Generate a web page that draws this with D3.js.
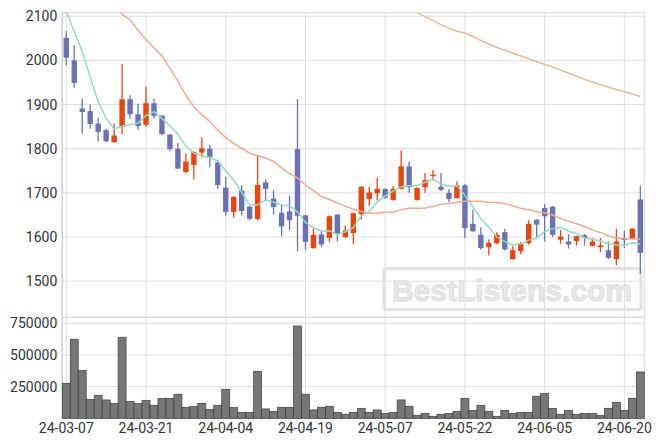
<!DOCTYPE html>
<html>
<head>
<meta charset="utf-8">
<script src="https://cdn.jsdelivr.net/npm/d3@7"></script>
<style>
  html, body { margin: 0; padding: 0; background: #ffffff; }
  svg { display: block; }
</style>
</head>
<body>
<div id="chart"></div>
<script>
const dates = ["24-03-07","24-03-08","24-03-11","24-03-12","24-03-13","24-03-14","24-03-15","24-03-18","24-03-19","24-03-20","24-03-21","24-03-22","24-03-25","24-03-26","24-03-27","24-03-28","24-03-29","24-04-01","24-04-02","24-04-03","24-04-04","24-04-05","24-04-08","24-04-09","24-04-11","24-04-12","24-04-15","24-04-16","24-04-17","24-04-18","24-04-19","24-04-22","24-04-23","24-04-24","24-04-25","24-04-26","24-04-29","24-04-30","24-05-02","24-05-03","24-05-07","24-05-08","24-05-09","24-05-10","24-05-13","24-05-14","24-05-16","24-05-17","24-05-20","24-05-21","24-05-22","24-05-23","24-05-24","24-05-27","24-05-28","24-05-29","24-05-30","24-05-31","24-06-03","24-06-04","24-06-05","24-06-07","24-06-10","24-06-11","24-06-12","24-06-13","24-06-14","24-06-17","24-06-18","24-06-19","24-06-20","24-06-21","24-06-24"];

const open  = [2051,2000,1891,1885,1857,1842,1815,1849,1912,1878,1854,1903,1875,1832,1800,1747,1763,1791,1800,1769,1712,1657,1705,1669,1641,1724,1687,1655,1658,1799,1649,1575,1606,1598,1651,1600,1609,1652,1686,1699,1709,1684,1709,1760,1684,1713,1738,1714,1700,1688,1717,1630,1605,1577,1586,1611,1550,1568,1586,1639,1666,1669,1594,1590,1591,1604,1580,1577,1570,1550,1596,1596,1685];
const high  = [2066,2034,1913,1900,1870,1845,1857,1992,1921,1902,1940,1913,1876,1833,1813,1789,1794,1826,1809,1775,1736,1692,1717,1670,1785,1730,1706,1675,1693,1912,1650,1620,1614,1649,1652,1626,1655,1715,1714,1734,1710,1715,1796,1771,1713,1745,1752,1745,1709,1726,1720,1662,1622,1595,1611,1619,1579,1589,1638,1640,1675,1670,1616,1607,1603,1607,1598,1598,1590,1619,1614,1620,1716];
const low   = [1989,1938,1834,1845,1817,1815,1814,1832,1868,1842,1849,1868,1830,1794,1754,1745,1730,1780,1758,1709,1649,1644,1649,1638,1638,1683,1651,1602,1615,1568,1572,1574,1577,1589,1590,1598,1585,1639,1671,1683,1686,1683,1708,1700,1683,1700,1728,1704,1679,1687,1598,1612,1571,1558,1583,1570,1549,1561,1583,1600,1590,1600,1585,1574,1581,1581,1579,1566,1550,1536,1575,1595,1517];
const close = [2006,1949,1883,1856,1838,1817,1830,1912,1878,1851,1903,1874,1833,1799,1755,1771,1792,1801,1780,1718,1657,1691,1659,1641,1718,1709,1668,1624,1638,1648,1589,1605,1583,1647,1608,1615,1654,1714,1701,1709,1689,1709,1760,1713,1711,1729,1741,1707,1686,1717,1620,1613,1575,1587,1605,1572,1570,1586,1630,1628,1647,1605,1601,1583,1602,1598,1590,1581,1553,1590,1593,1619,1564];

const ma5 = [2112,2065,2020,1962,1906,1869,1845,1851,1855,1858,1875,1884,1868,1852,1833,1806,1790,1784,1780,1772,1750,1729,1701,1673,1673,1684,1679,1672,1671,1657,1633,1621,1613,1614,1606,1612,1621,1648,1658,1679,1693,1704,1714,1716,1716,1724,1731,1720,1715,1716,1694,1669,1642,1622,1600,1590,1582,1584,1593,1597,1612,1619,1622,1613,1608,1598,1595,1591,1585,1582,1581,1587,1584];
const ma20 = [null,null,null,null,null,null,2130,2104,2092,2068,2047,2028,2010,1982,1953,1921,1895,1877,1862,1842,1825,1812,1801,1790,1784,1779,1771,1756,1744,1734,1718,1705,1692,1685,1677,1670,1663,1658,1654,1654,1656,1656,1662,1665,1665,1666,1669,1674,1676,1679,1681,1681,1681,1678,1678,1676,1671,1665,1662,1657,1655,1650,1642,1636,1630,1624,1616,1610,1603,1597,1596,1596,1595];
const ma120 = [null,null,null,null,null,null,null,null,null,null,null,null,null,null,null,null,null,null,null,null,null,null,null,null,null,null,null,null,null,null,null,null,null,null,null,null,null,null,null,null,null,null,null,2118,2108,2099,2090,2081,2073,2066,2062,2054,2045,2037,2029,2023,2016,2010,2004,1997,1991,1985,1978,1971,1964,1957,1951,1945,1939,1934,1929,1924,1918];

const volume = [276000,624000,379000,150000,182000,145000,118000,640000,134000,118000,142000,103000,158000,158000,190000,87000,92000,118000,71000,103000,229000,84000,47000,47000,371000,74000,55000,87000,87000,729000,190000,66000,87000,95000,47000,32000,47000,79000,47000,66000,39000,47000,145000,95000,24000,39000,16000,32000,39000,55000,158000,63000,103000,55000,16000,63000,39000,47000,47000,174000,197000,79000,32000,63000,32000,39000,39000,24000,79000,126000,63000,158000,366000];

const priceTicks = [1500,1600,1700,1800,1900,2000,2100];
const volumeTicks = [250000,500000,750000];
const dateTickLabels = ["24-03-07","24-03-21","24-04-04","24-04-19","24-05-07","24-05-22","24-06-05","24-06-20"];

const W = 663, H = 447;
const left = 62.3, right = 644.3;
const pTop = 12.7, pBottom = 317.3;
const vTop = 317.3, vBottom = 418.3;

const upColor = "#e8450f", downColor = "#6b72b4";
const gridColor = "#dedede";
const textColor = "#333333";
const font = "Roboto, 'Noto Sans', sans-serif";

const svg = d3.select("#chart").append("svg").attr("width", W).attr("height", H);

const x = d3.scaleBand().domain(d3.range(dates.length)).range([left, right]).padding(0);
const cx = i => x(i) + x.bandwidth() / 2;
const yP = d3.scaleLinear().domain([1500, 2100]).range([281.2, 16.2]);
const yV = d3.scaleLinear().domain([0, 750000]).range([vBottom, 323.3]);

// clip paths
const defs = svg.append("defs");
defs.append("clipPath").attr("id", "clipP").append("rect")
  .attr("x", left).attr("y", pTop).attr("width", right - left).attr("height", pBottom - pTop);

// gridlines
const grid = svg.append("g").attr("stroke", gridColor).attr("stroke-width", 1);
grid.selectAll(".hp").data(priceTicks).join("line")
  .attr("x1", left).attr("x2", right)
  .attr("y1", d => yP(d)).attr("y2", d => yP(d));
grid.selectAll(".hv").data(volumeTicks).join("line")
  .attr("x1", left).attr("x2", right)
  .attr("y1", d => yV(d)).attr("y2", d => yV(d));
const tickIdx = dateTickLabels.map(l => dates.indexOf(l));
grid.selectAll(".vx").data(tickIdx).join("line")
  .attr("x1", d => cx(d)).attr("x2", d => cx(d))
  .attr("y1", pTop).attr("y2", vBottom);

// panel borders
const border = svg.append("g").attr("fill", "none").attr("stroke", "#d6d6d6").attr("stroke-width", 1);
border.append("rect").attr("x", left).attr("y", pTop).attr("width", right - left).attr("height", pBottom - pTop);
border.append("rect").attr("x", left).attr("y", vTop).attr("width", right - left).attr("height", vBottom - vTop);
svg.append("line").attr("x1", left).attr("x2", left).attr("y1", pTop).attr("y2", vBottom)
  .attr("stroke", "#cfcfcf").attr("stroke-width", 1.5);
svg.append("line").attr("x1", left).attr("x2", right).attr("y1", vBottom).attr("y2", vBottom)
  .attr("stroke", "#cfcfcf").attr("stroke-width", 1.5);

// watermark
const wm = svg.append("g");
wm.append("rect").attr("x", 384).attr("y", 268.5).attr("width", 257).attr("height", 41).attr("rx", 2)
  .attr("fill", "none").attr("stroke", "#e2e2e2").attr("stroke-width", 3);
wm.append("text").attr("x", 392).attr("y", 301)
  .attr("font-family", "'Liberation Sans', Arial, sans-serif").attr("font-weight", "bold")
  .attr("font-size", 30).attr("fill", "#e8e8e8").attr("stroke", "#d9d9d9").attr("stroke-width", 0.8)
  .text("BestListens.com");

// candles
const bodyW = 5.4;
const candles = svg.append("g").attr("clip-path", "url(#clipP)");
const idx = d3.range(dates.length);
candles.selectAll(".wick").data(idx).join("line")
  .attr("x1", i => cx(i)).attr("x2", i => cx(i))
  .attr("y1", i => yP(high[i])).attr("y2", i => yP(low[i]))
  .attr("stroke", i => close[i] >= open[i] ? upColor : downColor)
  .attr("stroke-width", 1.3);
candles.selectAll(".body").data(idx).join("rect")
  .attr("x", i => cx(i) - bodyW / 2)
  .attr("width", bodyW)
  .attr("y", i => yP(Math.max(open[i], close[i])))
  .attr("height", i => Math.max(1.2, Math.abs(yP(open[i]) - yP(close[i]))))
  .attr("fill", i => close[i] >= open[i] ? upColor : downColor);

// moving averages
const lineGen = arr => d3.line()
  .defined(i => arr[i] != null)
  .x(i => cx(i)).y(i => yP(arr[i]))(idx);
const lines = svg.append("g").attr("clip-path", "url(#clipP)").attr("fill", "none").attr("stroke-width", 1.5);
lines.append("path").attr("d", lineGen(ma120)).attr("stroke", "#f0b78e");
lines.append("path").attr("d", lineGen(ma20)).attr("stroke", "#f2a990");
lines.append("path").attr("d", lineGen(ma5)).attr("stroke", "#8edcc2");

// volume bars
svg.append("g").selectAll("rect").data(idx).join("rect")
  .attr("x", i => x(i))
  .attr("width", x.bandwidth())
  .attr("y", i => yV(volume[i]))
  .attr("height", i => yV(0) - yV(volume[i]))
  .attr("fill", "#777777")
  .attr("stroke", "#3d3d3d")
  .attr("stroke-width", 0.7);

// axes
const axP = svg.append("g").attr("transform", `translate(${left},0)`)
  .call(d3.axisLeft(yP).tickValues(priceTicks).tickFormat(d3.format("d")).tickSize(0).tickPadding(5));
const axV = svg.append("g").attr("transform", `translate(${left},0)`)
  .call(d3.axisLeft(yV).tickValues(volumeTicks).tickFormat(d3.format("d")).tickSize(0).tickPadding(5));
const axX = svg.append("g").attr("transform", `translate(0,${vBottom})`)
  .call(d3.axisBottom(x).tickValues(tickIdx).tickFormat(i => dates[i]).tickSize(0).tickPadding(5));
[axP, axV, axX].forEach(a => {
  a.select(".domain").remove();
  a.selectAll("text").attr("font-family", font).attr("font-size", 14).attr("fill", textColor);
});
</script>
</body>
</html>
